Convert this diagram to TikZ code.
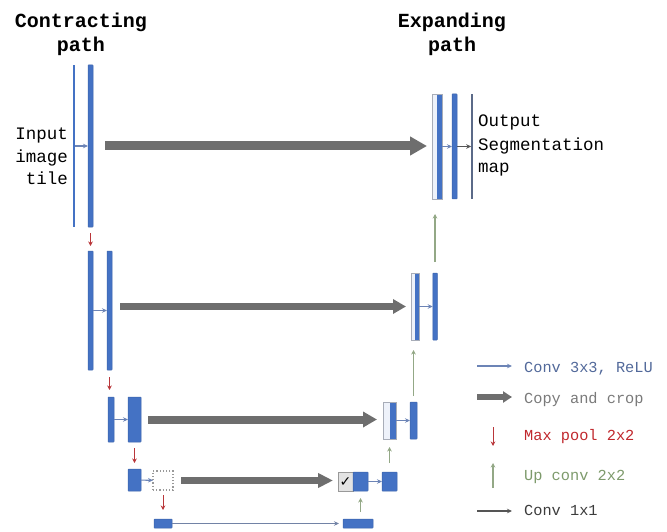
\documentclass[tikz,border=0pt]{standalone}
\usepackage{fontspec}
\setmainfont{Liberation Mono}
\newfontfamily\symfont{DejaVu Sans}
\usetikzlibrary{arrows.meta}
\definecolor{ublue}{HTML}{4472C4}
\definecolor{ubluedark}{HTML}{3A62AA}
\definecolor{outbar}{HTML}{5B6A88}
\definecolor{convc}{HTML}{6C84B6}
\definecolor{copyc}{HTML}{6E6E6E}
\definecolor{poolc}{HTML}{B9363A}
\definecolor{upc}{HTML}{93A886}
\definecolor{onec}{HTML}{555555}
\definecolor{txtblue}{HTML}{52699A}
\definecolor{txtgray}{HTML}{7A7A7A}
\definecolor{txtred}{HTML}{C0282D}
\definecolor{txtgreen}{HTML}{7D9A6B}
\definecolor{txtdark}{HTML}{3C3C3C}
\definecolor{halfedge}{HTML}{A8ADB8}
\definecolor{halffill}{HTML}{EEF2FA}
\tikzset{
  bar/.style={draw=ubluedark, fill=ublue, line width=0.5pt, inner sep=0pt, outer sep=0pt, rounded corners=0.6pt},
  thinbar/.style={draw=none, fill=ublue, inner sep=0pt, outer sep=0pt},
  halfbar/.style={draw=halfedge, fill=halffill, line width=0.5pt, inner sep=0pt, outer sep=0pt,
    path picture={\fill[ublue] (path picture bounding box.north) rectangle (path picture bounding box.south east);}},
  checkbox/.style={draw=gray!80, fill=gray!22, line width=0.7pt, inner sep=0pt, outer sep=0pt},
  dotbox/.style={draw=gray!80, dotted, line width=1.2pt, fill=white, inner sep=0pt, outer sep=0pt},
  conv/.style={draw=convc, line width=1.1pt, -{Stealth[length=5pt,width=4.5pt]}},
  onebyone/.style={draw=onec, line width=1.1pt, -{Stealth[length=5pt,width=4.5pt]}},
  copyarrow/.style={draw=copyc, -{Triangle[length=15pt,width=15pt]}},
  pool/.style={draw=poolc, line width=1pt, -{Stealth[length=4.5pt,width=4.5pt]}},
  upconv/.style={draw=upc, line width=1.1pt, -{Stealth[length=4.5pt,width=4.5pt]}},
  title/.style={font=\fontsize{20}{24}\selectfont\bfseries, inner sep=0pt},
  body/.style={font=\fontsize{17.5}{21}\selectfont, inner sep=0pt},
  legend/.style={font=\fontsize{15.3}{18}\selectfont, inner sep=0pt, anchor=base west},
}
\begin{document}
\begin{tikzpicture}[x=1pt,y=-1pt]
\useasboundingbox (0,0) rectangle (667,532);

% titles
\node[title, anchor=base] (t1) at (81,28) {Contracting};
\node[title, anchor=base] (t2) at (81,52) {path};
\node[title, anchor=base] (t3) at (452,28) {Expanding};
\node[title, anchor=base] (t4) at (452,52) {path};

% input / output text
\node[body, anchor=base east] (in1) at (68,140) {Input};
\node[body, anchor=base east] (in2) at (68,163) {image};
\node[body, anchor=base east] (in3) at (68,185) {tile};
\node[body, anchor=base west] (out1) at (478,127) {Output};
\node[body, anchor=base west] (out2) at (478,151) {Segmentation};
\node[body, anchor=base west] (out3) at (478,173) {map};

% level 1
\node[thinbar, minimum width=2pt, minimum height=162pt] (c1a) at (74,146) {};
\node[bar, minimum width=5pt, minimum height=162pt] (c1b) at (90.5,146) {};
\node[halfbar, minimum width=10pt, minimum height=105pt] (e1a) at (437,146.5) {};
\node[bar, minimum width=5pt, minimum height=105pt] (e1b) at (454.5,146.5) {};
\node[thinbar, fill=outbar, minimum width=1.6pt, minimum height=105pt] (e1c) at (472,146.5) {};

% level 2
\node[bar, minimum width=5pt, minimum height=119pt] (c2a) at (90.5,310.5) {};
\node[bar, minimum width=5pt, minimum height=119pt] (c2b) at (109.5,310.5) {};
\node[halfbar, minimum width=8pt, minimum height=67pt] (e2a) at (415,306.5) {};
\node[bar, minimum width=4.5pt, minimum height=67pt] (e2b) at (435,306.5) {};

% level 3
\node[bar, minimum width=6pt, minimum height=45pt] (c3a) at (111,419.5) {};
\node[bar, minimum width=13pt, minimum height=45pt] (c3b) at (134.5,419.5) {};
\node[halfbar, minimum width=13pt, minimum height=37pt] (e3a) at (389.5,420.5) {};
\node[bar, minimum width=7pt, minimum height=37pt] (e3b) at (413.5,420.5) {};

% level 4
\node[bar, minimum width=13pt, minimum height=22pt] (c4a) at (134.5,480) {};
\node[dotbox, minimum width=20pt, minimum height=19pt] (c4d) at (163,480.5) {};
\node[checkbox, minimum width=15pt, minimum height=19pt] (e4c) at (345.5,481.5) {};
\node[font=\symfont\fontsize{14}{14}\selectfont, inner sep=0pt] (chk) at (345.5,482) {✓};
\node[bar, minimum width=15pt, minimum height=19pt] (e4a) at (360.5,481.5) {};
\node[bar, minimum width=15pt, minimum height=19pt] (e4b) at (389.5,481.5) {};

% level 5
\node[bar, minimum width=18pt, minimum height=9pt] (c5a) at (163,523.5) {};
\node[bar, minimum width=30pt, minimum height=9pt] (c5b) at (358,523.5) {};

% conv arrows
\draw[conv] (c1a) -- (c1b);
\draw[conv] (c2a) -- (c2b);
\draw[conv] (c3a) -- (c3b);
\draw[conv] (c4a) -- (c4d);
\draw[conv] (e1a) -- (e1b);
\draw[onebyone] (e1b) -- (e1c);
\draw[conv] (e2a) -- (e2b);
\draw[conv] (e3a) -- (e3b);
\draw[conv] (e4a) -- (e4b);
\draw[onebyone, draw=convc!70!gray, shorten >=4pt] (c5a) -- (c5b);

% copy and crop
\draw[copyarrow, line width=9pt, -{Triangle[length=17pt,width=18pt]}, shorten <=12pt, shorten >=5pt]
  (c1b.east) -- (c1b.east -| e1a.west);
\draw[copyarrow, line width=7pt, -{Triangle[length=13pt,width=14pt]}, shorten <=8pt, shorten >=5pt]
  (e2a.west -| c2b.east) -- (e2a.west);
\draw[copyarrow, line width=8pt, -{Triangle[length=14pt,width=15pt]}, shorten <=7pt, shorten >=6pt]
  (c3b.east) -- (c3b.east -| e3a.west);
\draw[copyarrow, line width=7pt, -{Triangle[length=15pt,width=14pt]}, shorten <=8pt, shorten >=5pt]
  (c4d.east) -- (c4d.east -| e4c.west);

% max pool
\draw[pool, shorten <=6pt, shorten >=5pt] (c1b.south) -- (c1b.south |- c2a.north);
\draw[pool, shorten <=7pt, shorten >=7pt] (c2b.south) -- (c2b.south |- c3a.north);
\draw[pool, shorten <=6pt, shorten >=6pt] (c3b.south) -- (c3b.south |- c4a.north);
\draw[pool, shorten <=5pt, shorten >=9pt] (c4d.south) -- (c4d.south |- c5a.north);

% up conv
\draw[upconv, shorten <=7pt, shorten >=7pt] (c5b.north -| e4a.south) -- (e4a.south);
\draw[upconv, shorten <=9pt, shorten >=8pt] (e4b.north) -- (e4b.north |- e3a.south);
\draw[upconv, shorten <=6pt, shorten >=10pt] (e3b.north) -- (e3b.north |- e2a.south);
\draw[upconv, shorten <=11pt, shorten >=15pt] (e2b.north) -- (e2b.north |- e1a.south);

% legend
\coordinate (l1a) at (477,366); \coordinate (l1b) at (512,366);
\coordinate (l2a) at (477,397); \coordinate (l2b) at (512,397);
\coordinate (l3a) at (493,427); \coordinate (l3b) at (493,446);
\coordinate (l4a) at (493,488); \coordinate (l4b) at (493,463);
\coordinate (l5a) at (477,511); \coordinate (l5b) at (512,511);
\draw[conv] (l1a) -- (l1b);
\draw[copyarrow, line width=6pt, -{Triangle[length=9pt,width=11pt]}] (l2a) -- (l2b);
\draw[pool] (l3a) -- (l3b);
\draw[upconv] (l4a) -- (l4b);
\draw[onebyone] (l5a) -- (l5b);
\node[legend, text=txtblue] (lt1) at (524,372) {Conv 3x3, ReLU};
\node[legend, text=txtgray] (lt2) at (524,403) {Copy and crop};
\node[legend, text=txtred] (lt3) at (524,440) {Max pool 2x2};
\node[legend, text=txtgreen] (lt4) at (524,480) {Up conv 2x2};
\node[legend, text=txtdark] (lt5) at (524,515) {Conv 1x1};
\end{tikzpicture}
\end{document}
